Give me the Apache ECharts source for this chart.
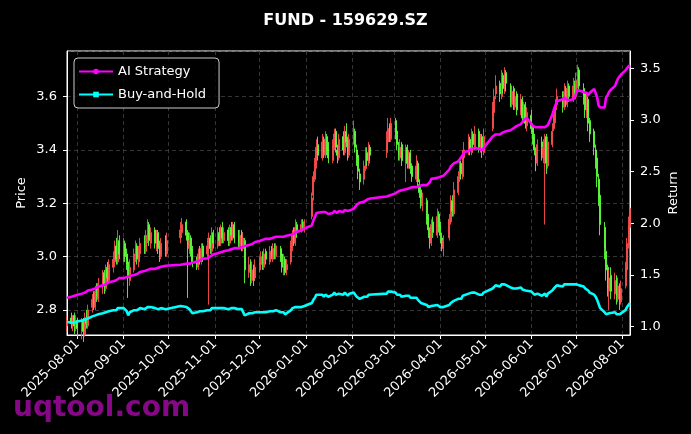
<!DOCTYPE html>
<html><head><meta charset="utf-8">
<script src="https://cdn.jsdelivr.net/npm/echarts@6/dist/echarts.min.js"></script>
<style>html,body{margin:0;padding:0;background:#000}#c{width:691px;height:434px}</style>
</head><body><div id="c"></div>
<script>
// trading days, grouped by month
const months = ['2025-07','2025-08','2025-09','2025-10','2025-11','2025-12','2026-01','2026-02','2026-03','2026-04','2026-05','2026-06','2026-07','2026-08'];
const monthDays = [
 [25,28,29,30,31],
 [1,4,5,6,7,8,11,12,13,14,15,18,19,20,21,22,25,26,27,28,29],
 [1,2,3,4,5,8,9,10,11,12,15,16,17,18,19,22,23,24,25,26,29,30],
 [9,10,13,14,15,16,17,20,21,22,23,24,27,28,29,30,31],
 [3,4,5,6,7,10,11,12,13,14,17,18,19,20,21,24,25,26,27,28],
 [1,2,3,4,5,8,9,10,11,12,15,16,17,18,19,22,23,24,25,26,29,30,31],
 [5,6,7,8,9,12,13,14,15,16,19,20,21,22,23,26,27,28,29,30],
 [2,3,4,5,6,9,10,11,12,13,24,25,26,27],
 [2,3,4,5,6,9,10,11,12,13,16,17,18,19,20,23,24,25,26,27,30,31],
 [1,2,3,7,8,9,10,13,14,15,16,17,20,21,22,23,24,27,28,29,30],
 [6,7,8,11,12,13,14,15,18,19,20,21,22,25,26,27,28,29],
 [1,2,3,4,5,8,9,10,11,12,15,16,17,18,22,23,24,25,26,29,30],
 [1,2,3,6,7,8,9,10,13,14,15,16,17,20,21,22,23,24,27,28,29,30,31],
 [3,4,5,6]
];

const openPrice = [
 2.74,2.77,2.74,2.78,2.73,
 2.76,2.72,2.76,2.71,2.77,2.74,2.81,2.85,2.81,2.88,2.84,2.89,2.94,2.88,2.96,2.91,2.96,2.98,3.04,2.98,3.06,
 3.00,3.05,3.01,2.98,2.91,2.95,3.00,3.04,2.98,3.01,3.06,3.02,3.07,3.12,3.05,3.10,3.04,3.09,3.04,3.00,3.06,3.01,
 3.07,3.09,3.13,3.09,3.03,3.07,3.03,2.99,2.96,3.02,2.98,3.04,3.01,3.05,3.07,3.02,3.09,
 3.04,3.09,3.05,3.11,3.06,3.10,3.05,3.11,3.07,3.12,3.08,3.04,3.09,3.03,3.06,2.94,2.98,2.91,2.96,2.92,
 2.95,2.97,3.01,2.96,3.02,2.98,3.03,2.99,3.04,3.00,3.03,3.01,2.95,2.99,2.95,2.98,3.03,3.09,3.05,3.12,3.10,3.13,3.10,
 3.15,3.23,3.29,3.34,3.42,3.37,3.44,3.38,3.45,3.41,3.36,3.41,3.47,3.40,3.37,3.45,3.39,3.47,3.44,3.38,
 3.45,3.47,3.40,3.38,3.31,3.29,3.33,3.39,3.35,3.41,3.39,3.43,3.49,3.44,
 3.51,3.47,3.41,3.37,3.42,3.35,3.41,3.34,3.39,3.34,3.29,3.35,3.27,3.25,3.19,3.21,3.15,3.09,3.05,3.13,3.08,3.16,
 3.12,3.07,3.03,3.07,3.13,3.21,3.16,3.24,3.29,3.35,3.30,3.37,3.39,3.44,3.39,3.46,3.41,3.47,3.40,3.45,3.39,
 3.48,3.54,3.61,3.65,3.60,3.68,3.62,3.69,3.64,3.57,3.63,3.56,3.61,3.54,3.59,3.51,3.57,3.49,
 3.53,3.49,3.45,3.39,3.35,3.43,3.37,3.36,3.45,3.34,3.42,3.48,3.51,3.57,3.61,3.56,3.63,3.57,3.64,3.59,3.65,
 3.60,3.65,3.70,3.63,3.61,3.54,3.59,3.51,3.47,3.40,3.37,3.29,3.23,3.11,3.02,2.96,2.87,2.93,2.86,2.92,2.84,2.88,2.83,
 2.89,2.95,3.04,3.11
];
const closePrice = [
 2.76,2.75,2.77,2.74,2.76,
 2.73,2.75,2.72,2.77,2.75,2.80,2.84,2.82,2.87,2.85,2.90,2.93,2.89,2.95,2.92,2.97,2.99,3.03,2.99,3.05,3.01,
 3.04,3.00,2.97,2.92,2.96,3.01,3.03,2.99,3.02,3.05,3.03,3.08,3.11,3.06,3.09,3.05,3.08,3.03,3.01,3.05,3.02,3.06,
 3.10,3.12,3.08,3.04,3.06,3.02,2.98,2.97,3.01,2.99,3.03,3.00,3.04,3.06,3.03,3.08,3.05,
 3.08,3.06,3.10,3.07,3.09,3.06,3.10,3.08,3.11,3.07,3.05,3.08,3.04,3.07,2.95,2.97,2.92,2.95,2.91,2.96,
 2.98,3.00,2.97,3.01,2.99,3.02,3.00,3.03,3.01,3.04,3.00,2.96,2.98,2.94,2.97,3.04,3.08,3.06,3.11,3.09,3.12,3.11,3.13,
 3.22,3.30,3.35,3.41,3.38,3.43,3.39,3.44,3.40,3.37,3.42,3.46,3.41,3.38,3.44,3.40,3.46,3.43,3.39,3.44,
 3.46,3.41,3.37,3.32,3.28,3.34,3.38,3.36,3.40,3.38,3.44,3.48,3.45,3.50,
 3.46,3.42,3.38,3.41,3.36,3.40,3.35,3.38,3.33,3.30,3.34,3.28,3.24,3.20,3.22,3.14,3.10,3.06,3.12,3.09,3.15,3.11,
 3.08,3.04,3.06,3.14,3.20,3.17,3.25,3.30,3.34,3.31,3.38,3.40,3.43,3.40,3.45,3.42,3.46,3.41,3.44,3.40,3.45,
 3.55,3.60,3.64,3.61,3.67,3.63,3.68,3.65,3.58,3.62,3.57,3.60,3.55,3.58,3.52,3.56,3.50,3.54,
 3.48,3.44,3.40,3.36,3.42,3.38,3.41,3.44,3.35,3.43,3.47,3.52,3.56,3.60,3.57,3.62,3.58,3.63,3.60,3.64,3.61,
 3.66,3.69,3.64,3.60,3.55,3.58,3.50,3.46,3.41,3.36,3.30,3.22,3.12,3.03,2.95,2.88,2.92,2.87,2.91,2.85,2.89,2.84,2.88,
 2.96,3.05,3.12,3.18
];
const highPrice = [
 2.78,2.79,2.78,2.79,2.78,
 2.77,2.77,2.77,2.79,2.80,2.82,2.86,2.87,2.89,2.90,2.92,2.95,2.95,2.97,2.98,2.99,3.02,3.06,3.07,3.10,3.08,
 3.07,3.06,3.03,3.00,2.99,3.03,3.06,3.05,3.04,3.07,3.08,3.10,3.14,3.13,3.11,3.11,3.10,3.10,3.06,3.07,3.08,3.09,
 3.13,3.145,3.14,3.10,3.09,3.08,3.04,3.00,3.03,3.04,3.05,3.05,3.07,3.09,3.08,3.11,3.10,
 3.11,3.11,3.12,3.13,3.11,3.11,3.12,3.13,3.13,3.13,3.10,3.10,3.10,3.09,3.07,3.00,2.99,2.98,2.97,2.99,
 3.00,3.02,3.02,3.03,3.03,3.04,3.04,3.05,3.05,3.05,3.04,3.02,3.01,3.00,2.99,3.06,3.10,3.11,3.14,3.13,3.14,3.14,3.14,
 3.24,3.32,3.37,3.44,3.45,3.46,3.45,3.47,3.46,3.43,3.44,3.48,3.48,3.42,3.46,3.47,3.49,3.50,3.45,3.46,
 3.51,3.48,3.42,3.39,3.33,3.36,3.41,3.41,3.43,3.42,3.47,3.52,3.50,3.52,
 3.52,3.48,3.43,3.44,3.43,3.42,3.42,3.40,3.40,3.35,3.38,3.36,3.29,3.26,3.24,3.22,3.16,3.11,3.14,3.15,3.18,3.17,
 3.13,3.09,3.08,3.16,3.23,3.23,3.28,3.32,3.37,3.36,3.40,3.43,3.46,3.45,3.48,3.47,3.49,3.48,3.46,3.46,3.48,
 3.58,3.63,3.68,3.66,3.70,3.69,3.71,3.70,3.65,3.64,3.64,3.62,3.62,3.61,3.60,3.58,3.58,3.56,
 3.55,3.50,3.46,3.41,3.44,3.45,3.44,3.46,3.46,3.45,3.50,3.55,3.59,3.63,3.62,3.65,3.64,3.66,3.65,3.67,3.66,
 3.69,3.72,3.71,3.65,3.62,3.61,3.60,3.52,3.48,3.42,3.38,3.31,3.24,3.13,3.04,2.97,2.95,2.96,2.94,2.93,2.92,2.90,2.91,
 2.98,3.07,3.15,3.21
];
const lowPrice = [
 2.72,2.73,2.72,2.71,2.72,
 2.70,2.69,2.68,2.70,2.73,2.73,2.79,2.80,2.80,2.83,2.83,2.86,2.86,2.87,2.90,2.90,2.94,2.96,2.97,2.97,2.99,
 2.98,2.98,2.95,2.845,2.89,2.94,2.98,2.97,2.96,3.00,3.01,3.01,3.05,3.04,3.03,3.03,3.02,3.01,2.98,2.99,3.00,3.00,
 3.05,3.07,3.06,2.845,3.01,3.00,2.96,2.95,2.95,2.97,2.97,2.98,3.00,2.82,3.01,3.01,3.03,
 3.03,3.04,3.04,3.05,3.05,3.04,3.04,3.06,3.06,3.05,3.03,3.03,3.02,3.02,2.90,2.92,2.89,2.90,2.89,2.91,
 2.94,2.96,2.95,2.95,2.97,2.97,2.99,2.98,2.99,2.99,2.98,2.94,2.93,2.93,2.93,2.97,3.02,3.04,3.04,3.07,3.09,3.10,3.09,
 3.14,3.21,3.28,3.33,3.36,3.36,3.37,3.37,3.38,3.35,3.35,3.40,3.39,3.35,3.36,3.38,3.38,3.41,3.36,3.37,
 3.42,3.39,3.34,3.29,3.25,3.27,3.32,3.34,3.34,3.36,3.37,3.42,3.43,3.43,
 3.44,3.40,3.36,3.36,3.34,3.28,3.33,3.33,3.31,3.28,3.28,3.26,3.22,3.18,3.17,3.12,3.07,3.03,3.04,3.07,3.07,3.09,
 3.05,3.02,3.00,3.06,3.12,3.15,3.15,3.23,3.28,3.29,3.29,3.36,3.38,3.38,3.38,3.40,3.40,3.39,3.39,3.37,3.38,
 3.47,3.53,3.59,3.58,3.59,3.61,3.61,3.62,3.56,3.56,3.55,3.55,3.53,3.53,3.50,3.50,3.48,3.47,
 3.46,3.42,3.38,3.32,3.34,3.36,3.35,3.12,3.31,3.33,3.41,3.47,3.50,3.55,3.54,3.55,3.56,3.56,3.58,3.58,3.59,
 3.59,3.63,3.62,3.57,3.52,3.52,3.47,3.43,3.38,3.33,3.26,3.19,3.08,2.99,2.91,2.85,2.80,2.84,2.84,2.82,2.83,2.80,2.82,
 2.88,2.94,3.03,3.10
];
const aiStrategy = [
 1.28,1.29,1.29,1.30,1.31,
 1.31,1.32,1.33,1.33,1.34,1.35,1.36,1.37,1.37,1.38,1.39,1.40,1.41,1.41,1.42,1.43,1.44,1.45,1.45,1.46,1.47,
 1.47,1.48,1.48,1.47,1.49,1.50,1.51,1.51,1.52,1.53,1.54,1.54,1.55,1.55,1.56,1.56,1.57,1.57,1.58,1.58,1.59,1.59,
 1.60,1.60,1.61,1.62,1.61,1.62,1.62,1.63,1.64,1.64,1.65,1.66,1.66,1.67,1.68,1.69,1.70,
 1.71,1.72,1.72,1.73,1.73,1.74,1.74,1.75,1.75,1.76,1.76,1.77,1.77,1.78,1.78,1.79,1.79,1.80,1.81,1.82,
 1.83,1.84,1.84,1.85,1.85,1.85,1.86,1.86,1.87,1.87,1.87,1.86,1.87,1.87,1.88,1.89,1.90,1.90,1.91,1.92,1.93,1.94,1.95,
 1.98,2.03,2.06,2.10,2.09,2.11,2.10,2.11,2.10,2.09,2.10,2.12,2.11,2.10,2.12,2.11,2.13,2.13,2.12,2.13,
 2.14,2.15,2.18,2.19,2.20,2.21,2.22,2.23,2.24,2.24,2.26,2.27,2.27,2.28,
 2.29,2.30,2.31,2.32,2.32,2.33,2.33,2.34,2.34,2.35,2.35,2.36,2.36,2.36,2.37,2.37,2.38,2.40,2.43,2.44,2.44,2.44,
 2.45,2.45,2.46,2.52,2.55,2.56,2.58,2.60,2.62,2.63,2.66,2.69,2.70,2.71,2.72,2.72,2.73,2.72,2.72,2.71,2.72,
 2.84,2.85,2.86,2.86,2.87,2.88,2.88,2.89,2.90,2.91,2.92,2.93,2.94,2.96,2.98,3.00,3.01,3.02,
 2.96,2.94,2.93,2.93,2.93,2.93,2.94,2.93,2.93,2.95,3.05,3.10,3.14,3.18,3.20,3.22,3.20,3.21,3.19,3.20,3.22,
 3.26,3.29,3.28,3.27,3.26,3.26,3.24,3.26,3.30,3.30,3.22,3.14,3.12,3.12,3.22,3.24,3.27,3.29,3.33,3.37,3.40,3.42,3.44,
 3.48,3.50,3.52,3.53
];
const buyHold = [
 1.045,1.04,1.05,1.04,1.05,
 1.05,1.06,1.05,1.07,1.07,1.08,1.10,1.09,1.11,1.10,1.12,1.13,1.12,1.14,1.13,1.15,1.16,1.17,1.16,1.18,1.17,
 1.18,1.17,1.15,1.11,1.14,1.16,1.17,1.16,1.17,1.18,1.17,1.18,1.19,1.18,1.19,1.18,1.19,1.17,1.17,1.18,1.17,1.18,
 1.20,1.20,1.19,1.18,1.17,1.15,1.13,1.14,1.15,1.15,1.16,1.15,1.16,1.17,1.16,1.18,1.17,
 1.18,1.17,1.18,1.17,1.18,1.17,1.18,1.18,1.19,1.18,1.17,1.18,1.17,1.18,1.11,1.13,1.12,1.13,1.12,1.14,
 1.14,1.15,1.14,1.15,1.14,1.15,1.14,1.15,1.15,1.16,1.14,1.13,1.14,1.12,1.13,1.16,1.18,1.17,1.19,1.18,1.19,1.19,1.20,
 1.23,1.26,1.28,1.31,1.30,1.31,1.29,1.31,1.30,1.29,1.31,1.33,1.31,1.30,1.32,1.31,1.33,1.32,1.30,1.32,
 1.33,1.31,1.29,1.28,1.27,1.29,1.30,1.29,1.31,1.30,1.32,1.34,1.33,1.34,
 1.33,1.31,1.30,1.31,1.29,1.30,1.29,1.30,1.28,1.27,1.28,1.26,1.25,1.23,1.24,1.21,1.19,1.18,1.20,1.19,1.21,1.20,
 1.19,1.18,1.19,1.21,1.23,1.22,1.25,1.27,1.28,1.27,1.30,1.31,1.32,1.31,1.33,1.32,1.33,1.31,1.32,1.31,1.33,
 1.37,1.38,1.40,1.39,1.41,1.40,1.41,1.40,1.38,1.39,1.37,1.38,1.37,1.38,1.36,1.37,1.35,1.36,
 1.34,1.33,1.31,1.30,1.32,1.30,1.31,1.32,1.29,1.32,1.35,1.37,1.38,1.40,1.39,1.41,1.40,1.41,1.40,1.41,1.40,
 1.41,1.42,1.40,1.39,1.37,1.38,1.35,1.33,1.31,1.29,1.26,1.22,1.18,1.14,1.12,1.12,1.13,1.12,1.14,1.12,1.13,1.12,1.13,
 1.16,1.19,1.21,1.23
];

const dates = [];
months.forEach((m, i) => monthDays[i].forEach(d => dates.push(m + '-' + String(d).padStart(2, '0'))));
const candles = dates.map((d, i) => [d, openPrice[i], closePrice[i], lowPrice[i], highPrice[i]]);
const aiData = dates.map((d, i) => [d, aiStrategy[i]]);
const bhData = dates.map((d, i) => [d, buyHold[i]]);

const pad = n => String(n).padStart(2, '0');
const chart = echarts.init(document.getElementById('c'), null, {renderer: 'canvas'});
const white = '#ffffff';
const gridLine = {show: true, lineStyle: {color: '#4a4a4a', type: [4, 3], width: 0.7}};
const lens = [dates.length, openPrice.length, closePrice.length, highPrice.length, lowPrice.length, aiStrategy.length, buyHold.length];
const bad = lens.some(v => v !== lens[0]);

chart.setOption({
  animation: false,
  backgroundColor: '#000000',
  textStyle: {fontFamily: 'DejaVu Sans'},
  title: {
    text: 'FUND - 159629.SZ', left: 'center', top: 8,
    textStyle: {color: white, fontSize: 16, fontWeight: 'bold', fontFamily: 'DejaVu Sans'}
  },
  legend: {
    data: ['AI Strategy', 'Buy-and-Hold'],
    orient: 'vertical', left: 74, top: 58,
    itemWidth: 34, itemHeight: 7, itemGap: 8,
    padding: [6, 13, 6, 4],
    backgroundColor: 'rgba(0,0,0,0.8)', borderColor: '#cccccc', borderWidth: 1, borderRadius: 4,
    textStyle: {color: white, fontSize: 13, fontFamily: 'DejaVu Sans', lineHeight: 15}
  },
  grid: {left: 67, top: 51, width: 563, height: 284, show: true, borderColor: white, borderWidth: 1, backgroundColor: 'transparent'},
  xAxis: {
    type: 'time', min: '2025-07-25', max: '2026-08-06',
    minInterval: 28 * 864e5, maxInterval: 31 * 864e5,
    axisLine: {show: true, lineStyle: {color: white}},
    axisTick: {show: true, length: 4, lineStyle: {color: white}},
    axisLabel: {
      color: white, fontSize: 13, rotate: 45, margin: 7, hideOverlap: false,
      formatter: v => { const d = new Date(v); return d.getFullYear() + '-' + pad(d.getMonth() + 1) + '-' + pad(d.getDate()); }
    },
    splitLine: gridLine
  },
  yAxis: [
    {
      type: 'value', position: 'left', min: 2.706, max: 3.771, scale: true,
      name: 'Price', nameLocation: 'middle', nameGap: 39, nameRotate: 90, nameMoveOverlap: false,
      nameTextStyle: {color: white, fontSize: 13},
      axisLine: {show: true, lineStyle: {color: white}},
      axisTick: {show: true, length: 4, lineStyle: {color: white}},
      axisLabel: {color: white, fontSize: 13, margin: 10, showMinLabel: false, showMaxLabel: false, formatter: v => v.toFixed(1)},
      splitLine: gridLine
    },
    {
      type: 'value', position: 'right', min: 0.92, max: 3.667, scale: true,
      name: 'Return', nameLocation: 'middle', nameGap: 37, nameRotate: 90, nameMoveOverlap: false,
      nameTextStyle: {color: white, fontSize: 13},
      axisLine: {show: true, lineStyle: {color: white}},
      axisTick: {show: true, length: 4, lineStyle: {color: white}},
      axisLabel: {color: white, fontSize: 13, margin: 10, showMinLabel: false, showMaxLabel: false, formatter: v => v.toFixed(1)},
      splitLine: {show: false}
    }
  ],
  graphic: [
    {type: 'text', left: 13, top: 395, z: -10, zlevel: 0,
     style: {text: 'uqtool.com', fill: '#860886', font: 'bold 28px "DejaVu Sans"'}},
    bad ? {type: 'text', left: 200, top: 20, style: {text: 'LEN ' + lens.join(','), fill: 'red', font: '14px sans-serif'}} : {type: 'group'}
  ],
  series: [
    {
      name: 'Price', type: 'candlestick', data: candles, yAxisIndex: 0,
      encode: {x: 0, y: [1, 2, 3, 4]},
      barWidth: 1.5,
      itemStyle: {color: '#ff4d4d', color0: '#5cff3a', borderColor: '#ff4d4d', borderColor0: '#5cff3a', borderWidth: 1, opacity: 0.9},
      z: 2
    },
    {
      name: 'AI Strategy', type: 'line', data: aiData, yAxisIndex: 1,
      symbol: 'circle', symbolSize: 5, showSymbol: false,
      lineStyle: {color: '#ff00ff', width: 2.6}, itemStyle: {color: '#ff00ff'}, z: 5
    },
    {
      name: 'Buy-and-Hold', type: 'line', data: bhData, yAxisIndex: 1,
      symbol: 'rect', symbolSize: 5, showSymbol: false,
      lineStyle: {color: '#00ffff', width: 2.6}, itemStyle: {color: '#00ffff'}, z: 5
    }
  ]
});
</script>
</body></html>
